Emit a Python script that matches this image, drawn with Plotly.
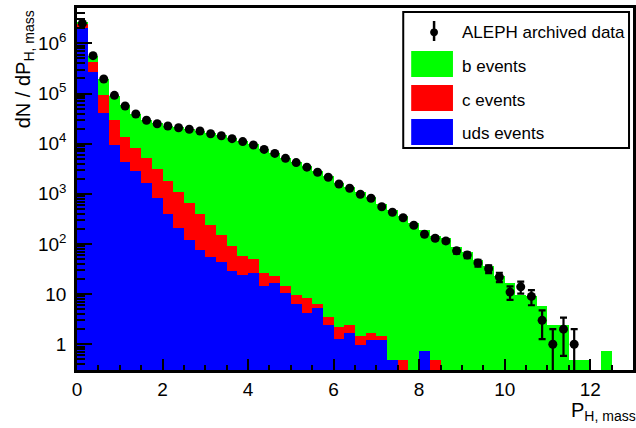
import numpy as np
import plotly.graph_objects as go

# ---- data (52 bins of width 0.25 from 0 to 13) ----
bin_width = 0.25
n_bins = 52

uds_events = [2.0e6, 2.73e5, 4.04e4, 9.4e3, 4.4e3, 2860, 1620, 815, 396, 206,
              120, 75, 54, 44, 29, 24, 26, 14.5, 16.5, 10.7,
              6.4, 4.3, 5.4, 2.43, 1.26, 1.66, 0.97, 1.22, 1.22, 0.49,
              0, 0, 0.73, 0, 0, 0, 0, 0, 0, 0,
              0, 0, 0, 0, 0, 0, 0, 0, 0, 0,
              0, 0]

c_events = [4.4e5, 1.59e5, 5.31e4, 2.03e4, 9400, 5440, 3480, 2315, 1434, 864,
            528, 316, 185, 106, 62, 33, 24, 11.5, 7, 3.8,
            3.2, 4.0, 1.0, 1.02, 0.92, 0.77, 0.5, 0.48, 0.25, 0,
            0.49, 0, 0, 0.49, 0, 0, 0, 0, 0, 0,
            0, 0, 0, 0, 0, 0, 0, 0, 0, 0,
            0, 0]

b_events = [2.7e5, 1.37e5, 1.015e5, 6.13e4, 4.42e4, 3.17e4, 2.49e4, 2.237e4, 2.117e4, 2.013e4,
            1.915e4, 1.791e4, 1.606e4, 1.465e4, 1.291e4, 1.124e4, 9650, 7974, 6577, 5286,
            4340, 3542, 2844, 2247, 1648, 1348, 1098, 875, 626, 475,
            361, 259, 189, 143.5, 130, 88, 70, 47, 37, 23,
            16.5, 9.5, 9.0, 5.8, 2.4, 2.4, 0.49, 0.49, 0, 0.73,
            0, 0]

aleph_data = [2.5e6, 5.69e5, 1.95e5, 9.2e4, 5.65e4, 3.91e4, 2.93e4, 2.5e4, 2.25e4, 2.08e4,
              1.94e4, 1.79e4, 1.58e4, 1.44e4, 1.26e4, 1.1e4, 9400, 7700, 6400, 5100,
              4200, 3400, 2700, 2140, 1570, 1290, 980, 815, 554, 429,
              334, 236, 156, 130, 115, 73, 60, 42, 32, 22,
              11, 14, 9, 3, 1, 2, 1, None, None, None,
              None, None]

x_tick_vals = [0, 2, 4, 6, 8, 10, 12]
y_tick_vals = [1, 10, 1e2, 1e3, 1e4, 1e5, 1e6]
y_tick_text = ["1", "10", "10<sup>2</sup>", "10<sup>3</sup>", "10<sup>4</sup>",
               "10<sup>5</sup>", "10<sup>6</sup>"]

legend_labels = ["ALEPH archived data", "b events", "c events", "uds events"]

# ---- derived ----
centers = (np.arange(n_bins) + 0.5) * bin_width
uds = np.array(uds_events)
c = np.array(c_events)
b = np.array(b_events)
tot_uds = uds
tot_c = uds + c
tot_all = uds + c + b

data = np.array([np.nan if v is None else v for v in aleph_data], dtype=float)
err = np.sqrt(data)

GREEN = "#00ff00"
RED = "#ff0000"
BLUE = "#0000ff"
FONT = "Liberation Sans, Arial, Helvetica, sans-serif"

fig = go.Figure()

def bars(y, color):
    yy = [v if v > 0 else None for v in y]
    fig.add_trace(go.Bar(x=centers, y=yy, width=bin_width, marker=dict(color=color, line=dict(width=0)),
                         showlegend=False, hoverinfo="skip"))

bars(tot_all, GREEN)
bars(tot_c, RED)
bars(tot_uds, BLUE)

fig.add_trace(go.Scatter(
    x=centers, y=data, mode="markers",
    marker=dict(color="black", size=9),
    error_y=dict(type="data", array=err, visible=True, color="black", thickness=2.2, width=3.5),
    showlegend=False,
))

# ---- layout ----
L, R, T, B = 77, 0, 8, 58
W, H = 636, 428
pw, ph = W - L - R, H - T - B

def px(x):
    return (x - L) / pw

def py(y):
    return (H - B - y) / ph

minor_y = [m * 10 ** k for k in range(-1, 7) for m in range(2, 10)]

fig.update_layout(
    width=W, height=H,
    margin=dict(l=L, r=R, t=T, b=B),
    paper_bgcolor="white", plot_bgcolor="white",
    barmode="overlay", bargap=0,
    font=dict(family=FONT, color="black", size=19),
    showlegend=False,
    xaxis=dict(
        range=[0, 13], tickvals=x_tick_vals, ticks="inside", ticklen=11, tickwidth=2,
        tickcolor="black", showline=True, linecolor="black", linewidth=2.5, mirror=True,
        showgrid=False, zeroline=False, tickfont=dict(size=19),
        minor=dict(dtick=0.5, ticks="inside", ticklen=5, tickwidth=2, tickcolor="black", showgrid=False),
    ),
    yaxis=dict(
        type="log", range=[np.log10(0.307), np.log10(5.08e6)],
        tickvals=y_tick_vals, ticktext=y_tick_text, ticks="inside", ticklen=15, tickwidth=2,
        tickcolor="black", showline=True, linecolor="black", linewidth=2.5, mirror=True,
        showgrid=False, zeroline=False, tickfont=dict(size=19), ticklabelstandoff=4,
        minor=dict(tickvals=minor_y, ticks="inside", ticklen=8, tickwidth=2, tickcolor="black", showgrid=False),
    ),
)

# axis titles
fig.add_annotation(xref="paper", yref="paper", x=px(24), y=py(8), xanchor="center", yanchor="top",
                   text="dN / dP<sub>H, mass</sub>", textangle=-90, showarrow=False,
                   font=dict(size=20, family=FONT))
fig.add_annotation(xref="paper", yref="paper", x=px(641), y=py(397), xanchor="right", yanchor="top",
                   text="P<sub>H, mass</sub>", showarrow=False, font=dict(size=20, family=FONT))

# legend drawn manually (ROOT style)
shapes = []
shapes.append(dict(type="rect", xref="paper", yref="paper", x0=px(405), x1=px(632), y0=py(148), y1=py(12),
                   line=dict(color="black", width=2), fillcolor="white", layer="above"))
box_colors = [GREEN, RED, BLUE]
box_tops = [51, 85, 119]
for col, top in zip(box_colors, box_tops):
    shapes.append(dict(type="rect", xref="paper", yref="paper", x0=px(413), x1=px(455),
                       y0=py(top + 26), y1=py(top), line=dict(width=0), fillcolor=col, layer="above"))
shapes.append(dict(type="line", xref="paper", yref="paper", x0=px(436), x1=px(436), y0=py(41), y1=py(21),
                   line=dict(color="black", width=2.5), layer="above"))
shapes.append(dict(type="circle", xref="paper", yref="paper", x0=px(432.5), x1=px(439.5), y0=py(35.8), y1=py(28.8),
                   line=dict(color="black", width=1), fillcolor="black", layer="above"))
fig.update_layout(shapes=shapes)

text_ys = [32.5, 66.5, 100, 133.5]
for lab, ty in zip(legend_labels, text_ys):
    fig.add_annotation(xref="paper", yref="paper", x=px(462), y=py(ty), xanchor="left", yanchor="middle",
                       text=lab, showarrow=False, font=dict(size=17, family=FONT))

fig.write_html("out.html")
